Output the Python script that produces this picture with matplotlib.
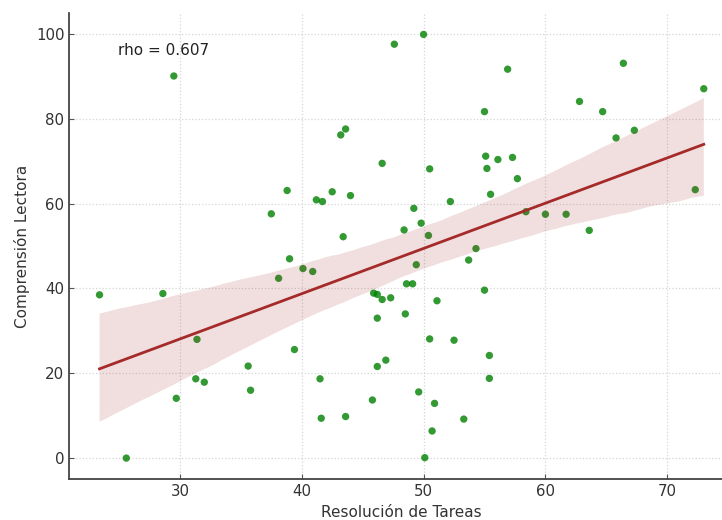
import numpy as np
import matplotlib
matplotlib.use("Agg")
import matplotlib.pyplot as plt
import seaborn as sns

# Datos
resolucion = [29.5, 38.8, 37.5, 50.0, 47.6, 56.9, 55.0, 43.6, 43.2, 46.6,
              55.1, 56.1, 57.3, 55.2, 50.5, 42.5, 44.0, 41.2, 41.7, 52.2,
              55.5, 49.2, 48.4, 49.8, 50.4, 43.4, 54.3, 66.4, 73.0, 62.8,
              64.7, 67.3, 65.8, 57.7, 72.3, 58.4, 60.0, 61.7, 63.6, 23.4,
              28.6, 31.4, 39.0, 38.1, 40.1, 40.9, 39.4, 35.6, 31.3, 32.0,
              35.8, 29.7, 25.6, 49.4, 53.7, 48.6, 49.1, 55.0, 45.9, 46.2,
              46.6, 47.3, 51.1, 48.5, 46.2, 50.5, 52.5, 55.4, 46.9, 46.2,
              41.5, 55.4, 49.6, 45.8, 50.9, 41.6, 43.6, 53.3, 50.7, 50.1]
comprension = [90.1, 63.1, 57.6, 99.9, 97.6, 91.7, 81.7, 77.6, 76.2, 69.5,
               71.2, 70.4, 70.9, 68.3, 68.2, 62.8, 61.9, 60.9, 60.5, 60.5,
               62.2, 58.9, 53.8, 55.4, 52.5, 52.2, 49.4, 93.1, 87.1, 84.1,
               81.7, 77.3, 75.5, 65.9, 63.3, 58.1, 57.5, 57.5, 53.7, 38.5,
               38.8, 28.0, 47.0, 42.4, 44.7, 44.0, 25.6, 21.7, 18.7, 17.9,
               16.0, 14.1, 0.0, 45.6, 46.7, 41.1, 41.1, 39.6, 38.9, 38.6,
               37.4, 37.8, 37.1, 34.0, 33.0, 28.1, 27.8, 24.2, 23.1, 21.6,
               18.7, 18.8, 15.6, 13.7, 12.9, 9.4, 9.8, 9.2, 6.4, 0.1]
rho_texto = "rho = 0.607"

fig = plt.figure(figsize=(7.22, 5.2), dpi=100)
ax = fig.add_axes([0.096, 0.0783, 0.9206, 0.8962])

sns.regplot(x=resolucion, y=comprension, ax=ax, ci=95, seed=0,
            scatter_kws={"color": "green", "s": 28, "alpha": 0.8, "edgecolors": "none"},
            line_kws={"color": "brown", "linewidth": 2})

ax.text(24.9, 96.1, rho_texto, fontsize=11, ha="left", va="center", color="#222222")

ax.set_xlabel("Resolución de Tareas", fontsize=11, color="#333333")
ax.set_ylabel("Comprensión Lectora", fontsize=11, color="#333333")
ax.set_xticks([30, 40, 50, 60, 70])
ax.set_yticks([0, 20, 40, 60, 80, 100])
ax.tick_params(direction="in", length=3.5, width=0.8, colors="#555555",
               labelsize=10.8, labelcolor="#333333")
ax.grid(True, linestyle=":", color="#d5d5d5", linewidth=0.9)
ax.set_axisbelow(True)
for s in ["top", "right"]:
    ax.spines[s].set_visible(False)
for s in ["left", "bottom"]:
    ax.spines[s].set_color("#444444")
    ax.spines[s].set_linewidth(1.3)

fig.savefig("out.png", dpi=100)
